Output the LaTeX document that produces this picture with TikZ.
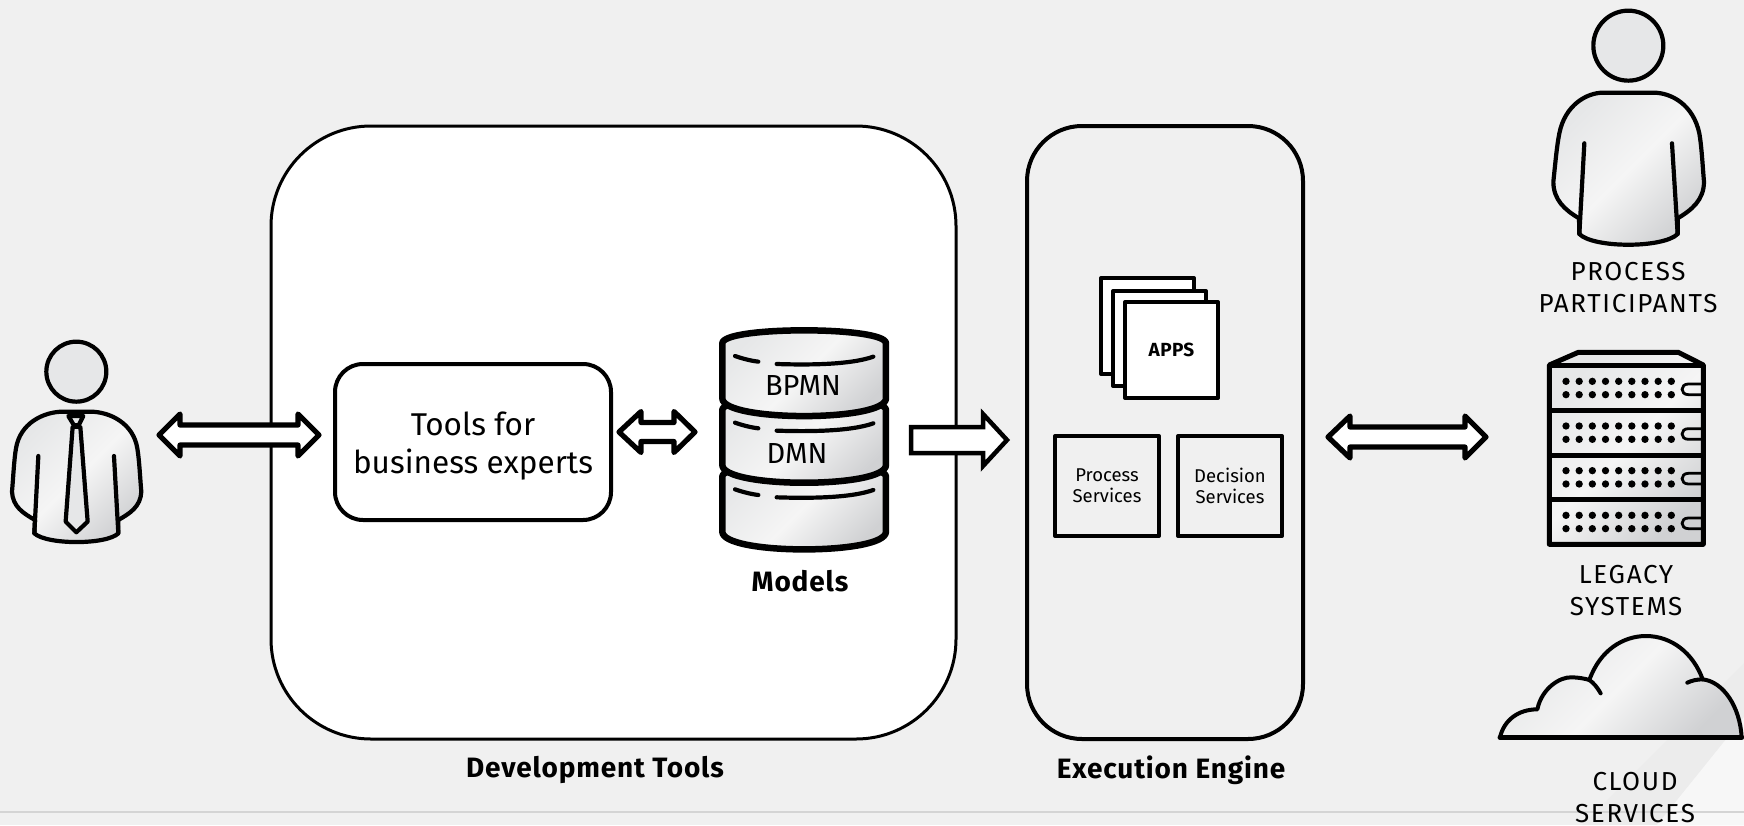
\documentclass[tikz,border=0pt]{standalone}
\usepackage{fontspec}
\setmainfont{Fira Sans}
\definecolor{bg}{HTML}{F0F0F0}
\definecolor{bandc}{HTML}{ECECEC}
\definecolor{lightc}{HTML}{F7F7F7}
\definecolor{iconA}{HTML}{F5F5F5}
\definecolor{iconB}{HTML}{E6E7E8}
\definecolor{iconC}{HTML}{D0D1D3}
\tikzset{
  iconfill/.style={left color=iconB,right color=iconC,middle color=iconA,shading angle=45},
  iconline/.style={line width=4.2pt,line join=round,line cap=round},
  twoarrow/.style={draw=black,fill=white,line width=5.2pt,line join=round},
  onearrow/.style={draw=black,fill=white,line width=4.5pt,line join=miter},
  sheet/.style={draw=black,fill=white,line width=4pt,line join=round,outer sep=0pt},
  svcbox/.style={draw=black,fill=bg,line width=4pt,line join=round,outer sep=0pt,minimum width=104pt,minimum height=100pt,anchor=north west,align=center,font=\fontsize{18.5}{21}\selectfont},
  lab/.style={align=center,font=\fontsize{26}{32}\selectfont\addfontfeature{LetterSpace=6.5}},
  captxt/.style={font=\fontsize{28}{32}\selectfont\bfseries\addfontfeature{LetterSpace=3}}
}
\begin{document}
\begin{tikzpicture}[x=1pt,y=-1pt]
\useasboundingbox (0,0) rectangle (1744,825);
\fill[bg] (0,0) rectangle (1744,825);
% background band
\fill[bandc] (1744,663) -- (1582,825) -- (1744,825) -- cycle;
\fill[lightc] (1744,717) -- (1657,825) -- (1744,825) -- cycle;
\draw[line width=2pt,draw=black!17] (0,812) -- (1744,812);
% containers
\node[draw=black,fill=white,line width=3pt,outer sep=0pt,rounded corners=100pt,minimum width=685pt,minimum height=613pt,anchor=north west] (dev) at (271,126) {};
\node[draw=black,fill=bg,line width=4pt,outer sep=0pt,rounded corners=55pt,minimum width=276pt,minimum height=613pt,anchor=north west] (exe) at (1027,126) {};
\node[draw=black,fill=white,line width=4pt,outer sep=0pt,rounded corners=28pt,minimum width=276pt,minimum height=156pt,anchor=north west] (tools) at (335,364) {};
\node[align=center,font=\fontsize{31.5}{38}\selectfont] (toolst) at (473,446) {Tools for\\business experts};
\node[captxt] (devl) at (595,770) {Development Tools};
\node[captxt] (exel) at (1171,770) {Execution Engine};
% arrows
\coordinate (a1l) at (159,435); \coordinate (a1r) at (319,435);
\draw[twoarrow] (a1l) -- (180,414) -- (180,425) -- (298,425) -- (298,414) -- (a1r) -- (298,456) -- (298,445) -- (180,445) -- (180,456) -- cycle;
\coordinate (a2l) at (619,432); \coordinate (a2r) at (695,432);
\draw[twoarrow] (a2l) -- (641,411.5) -- (641,422.5) -- (674,422.5) -- (674,411.5) -- (a2r) -- (674,452.5) -- (674,441.5) -- (641,441.5) -- (641,452.5) -- cycle;
\coordinate (a3l) at (911,427);\coordinate (a3r) at (1007,440);
\draw[onearrow] (a3l) -- (983,427) -- (983,414) -- (a3r) -- (983,466) -- (983,453) -- (911,453) -- cycle;
\coordinate (a4l) at (1328,437); \coordinate (a4r) at (1486,437);
\draw[twoarrow] (a4l) -- (1350,416) -- (1350,427) -- (1465,427) -- (1465,416) -- (a4r) -- (1465,458) -- (1465,447) -- (1350,447) -- (1350,458) -- cycle;
% person with tie
\begin{scope}[shift={(0,320)},x=0.3333pt,y=-0.3333pt]
\filldraw[fill=iconB,iconline] (229,155) circle (90);
\filldraw[iconfill,iconline] (105,600) .. controls (70,580) and (38,560) .. (36,515) .. controls (40,470) and (42,420) .. (48,385) .. controls (60,310) and (130,275) .. (190,275) -- (270,275) .. controls (330,275) and (400,310) .. (412,385) .. controls (418,420) and (420,470) .. (424,515) .. controls (422,560) and (390,580) .. (355,600) -- (355,640) .. controls (320,675) and (140,675) .. (103,640) -- cycle;
\draw[iconline] (115,408) -- (103,640);
\draw[iconline] (342,408) -- (355,640);
\draw[iconline,fill=iconB] (205,288) -- (250,288) -- (236,316) -- (222,316) -- cycle;
\draw[iconline,fill=iconB] (218,320) -- (241,320) -- (263,605) -- (229,637) -- (197,605) -- cycle;
\end{scope}
% cylinder
\begin{scope}[shift={(600,310)},x=0.3333pt,y=-0.3333pt]
\foreach \dy in {400,200,0}{
\filldraw[iconfill,line width=6.5pt,line join=round] (367,\dy+100) .. controls (367,\dy+48) and (858,\dy+48) .. (858,\dy+100) -- (858,\dy+265) .. controls (858,\dy+336) and (367,\dy+336) .. (367,\dy+265) -- cycle;
\draw[iconline] (405,\dy+138) .. controls (425,\dy+145) and (450,\dy+152) .. (475,\dy+155);
\draw[iconline] (530,\dy+162) .. controls (620,\dy+165) and (750,\dy+165) .. (820,\dy+140);
}
\end{scope}
\node[font=\fontsize{29}{34}\selectfont] (bpmn) at (803,386) {BPMN};
\node[font=\fontsize{29}{34}\selectfont] (dmn) at (797,454) {DMN};
\node[captxt] (models) at (800,581) {Models};
% apps
\node[sheet,minimum width=93pt,minimum height=96pt,anchor=north west] (s1) at (1101,278) {};
\node[sheet,minimum width=93pt,minimum height=95pt,anchor=north west] (s2) at (1113,291) {};
\node[sheet,minimum width=93pt,minimum height=96pt,anchor=north west,font=\fontsize{19}{20}\selectfont\bfseries\addfontfeature{LetterSpace=2}] (s3) at (1125,302) {APPS};
\node[svcbox] (ps) at (1055,436) {Process\\Services};
\node[svcbox] (ds) at (1178,436) {Decision\\Services};
% participant
\begin{scope}[shift={(1500,0)},x=0.3333pt,y=-0.3333pt]
\filldraw[fill=iconB,iconline] (385,137) circle (105);
\filldraw[iconfill,iconline] (237,655) .. controls (195,630) and (160,600) .. (160,545) .. controls (165,500) and (170,440) .. (178,400) .. controls (195,315) and (260,278) .. (310,278) -- (460,278) .. controls (515,278) and (580,315) .. (598,400) .. controls (605,440) and (608,500) .. (612,545) .. controls (612,600) and (575,630) .. (533,655) -- (533,702) .. controls (490,745) and (280,745) .. (238,702) -- cycle;
\draw[iconline] (253,430) -- (238,702);
\draw[iconline] (516,430) -- (533,702);
\end{scope}
\node[lab] (pp) at (1628,288) {PROCESS\\PARTICIPANTS};
% server
\begin{scope}[shift={(1520,340)},x=0.3333pt,y=-0.3333pt]
\filldraw[iconfill,line width=5pt,line join=round] (88,75) -- (175,37) -- (475,37) -- (550,75) -- (550,613) -- (88,613) -- cycle;
\foreach \y in {77,212,346,480}{\draw[line width=5pt] (88,\y) -- (550,\y);}
\foreach \r in {0,134,268,402}{
 \foreach \x in {138,177.5,217,256.5,296,335.5,375,414.5,454}{
  \fill (\x,124+\r) circle (11); \fill (\x,164+\r) circle (11);}
 \draw[line width=2.8pt] (545,132+\r) -- (505,132+\r) .. controls (480,132+\r) and (480,164+\r) .. (505,164+\r) -- (545,164+\r);
}
\end{scope}
\node[lab] (ls) at (1626,591) {LEGACY\\SYSTEMS};
% cloud
\begin{scope}[shift={(1480,620)},x=0.3333pt,y=-0.3333pt]
\filldraw[iconfill,line width=4pt,line join=round] (60,352) .. controls (72,300) and (115,268) .. (172,268) .. controls (185,205) and (240,170) .. (275,172) .. controls (295,172) and (315,176) .. (328,180) .. controls (360,90) and (430,48) .. (498,48) .. controls (575,48) and (640,100) .. (668,178) .. controls (730,185) and (780,260) .. (785,352) -- cycle;
\draw[line width=4pt,line cap=round] (328,180) .. controls (340,188) and (352,202) .. (362,220);
\draw[line width=4pt,line cap=round] (668,178) .. controls (650,178) and (635,182) .. (622,188);
\draw[line width=5pt,line cap=round] (60,352) -- (785,352);
\end{scope}
\node[lab] (cs) at (1635,798) {CLOUD\\SERVICES};
\end{tikzpicture}
\end{document}
